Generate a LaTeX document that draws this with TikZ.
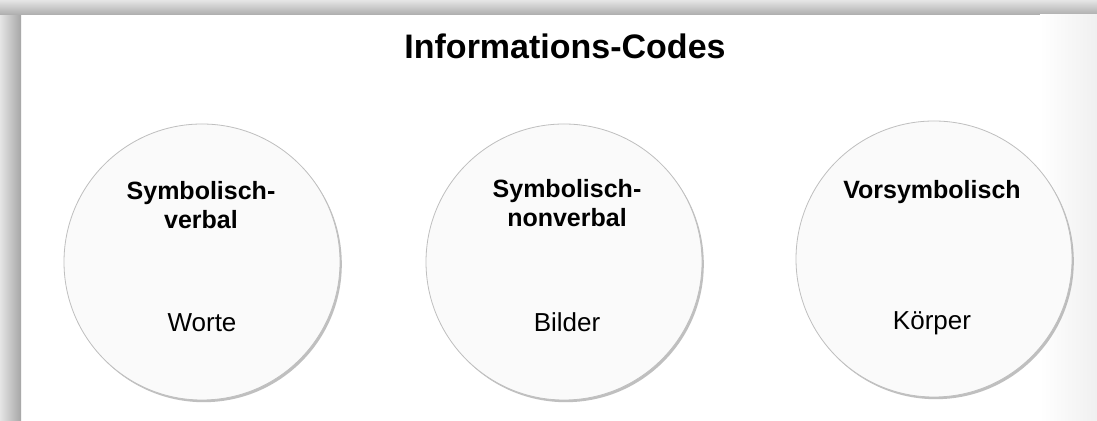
\documentclass[tikz,border=0pt]{standalone}
\usepackage{fontspec}
\setmainfont{Liberation Sans}
\usetikzlibrary{positioning,shadows}

\begin{document}
\begin{tikzpicture}[x=0.5pt,y=-0.5pt,
    code/.style={circle,minimum size=138pt,inner sep=0pt,fill=gray!4,draw=gray!50,line width=0.4pt,
        drop shadow={shadow xshift=0.9pt,shadow yshift=-1.1pt,fill=gray!90,opacity=0.55}},
    head/.style={font=\bfseries\fontsize{12.5}{14.5}\selectfont,align=center},
    word/.style={font=\fontsize{13}{15}\selectfont,anchor=base}]
    \useasboundingbox (0,0) rectangle (1097,421);
    % scan frame
    \fill[white] (0,0) rectangle (1097,421);
    \shade[left color=gray!20,right color=gray!70] (0,0) rectangle (21,421);
    \shade[top color=gray!20,bottom color=gray!65] (0,0) rectangle (1097,15);
    \shade[left color=white,right color=gray!12] (1040,15) rectangle (1097,421);

    \node[font=\bfseries\fontsize{17}{20}\selectfont] (title) at (565,46) {Informations-Codes};

    \node[code] (verbal)    at (202,262) {};
    \node[code] (nonverbal) at (564,262) {};
    \node[code] (vorsym)    at (934,259) {};

    \node[head] (h_1) at (201,205) {Symbolisch-\\verbal};
    \node[head] (h_2) at (567,203) {Symbolisch-\\nonverbal};
    \node[head,anchor=base] (h_3) at (932,199) {Vorsymbolisch};

    \node[word] (w_1) at (202,332) {Worte};
    \node[word] (w_2) at (567,332) {Bilder};
    \node[word] (w_3) at (932,330) {Körper};
\end{tikzpicture}
\end{document}
